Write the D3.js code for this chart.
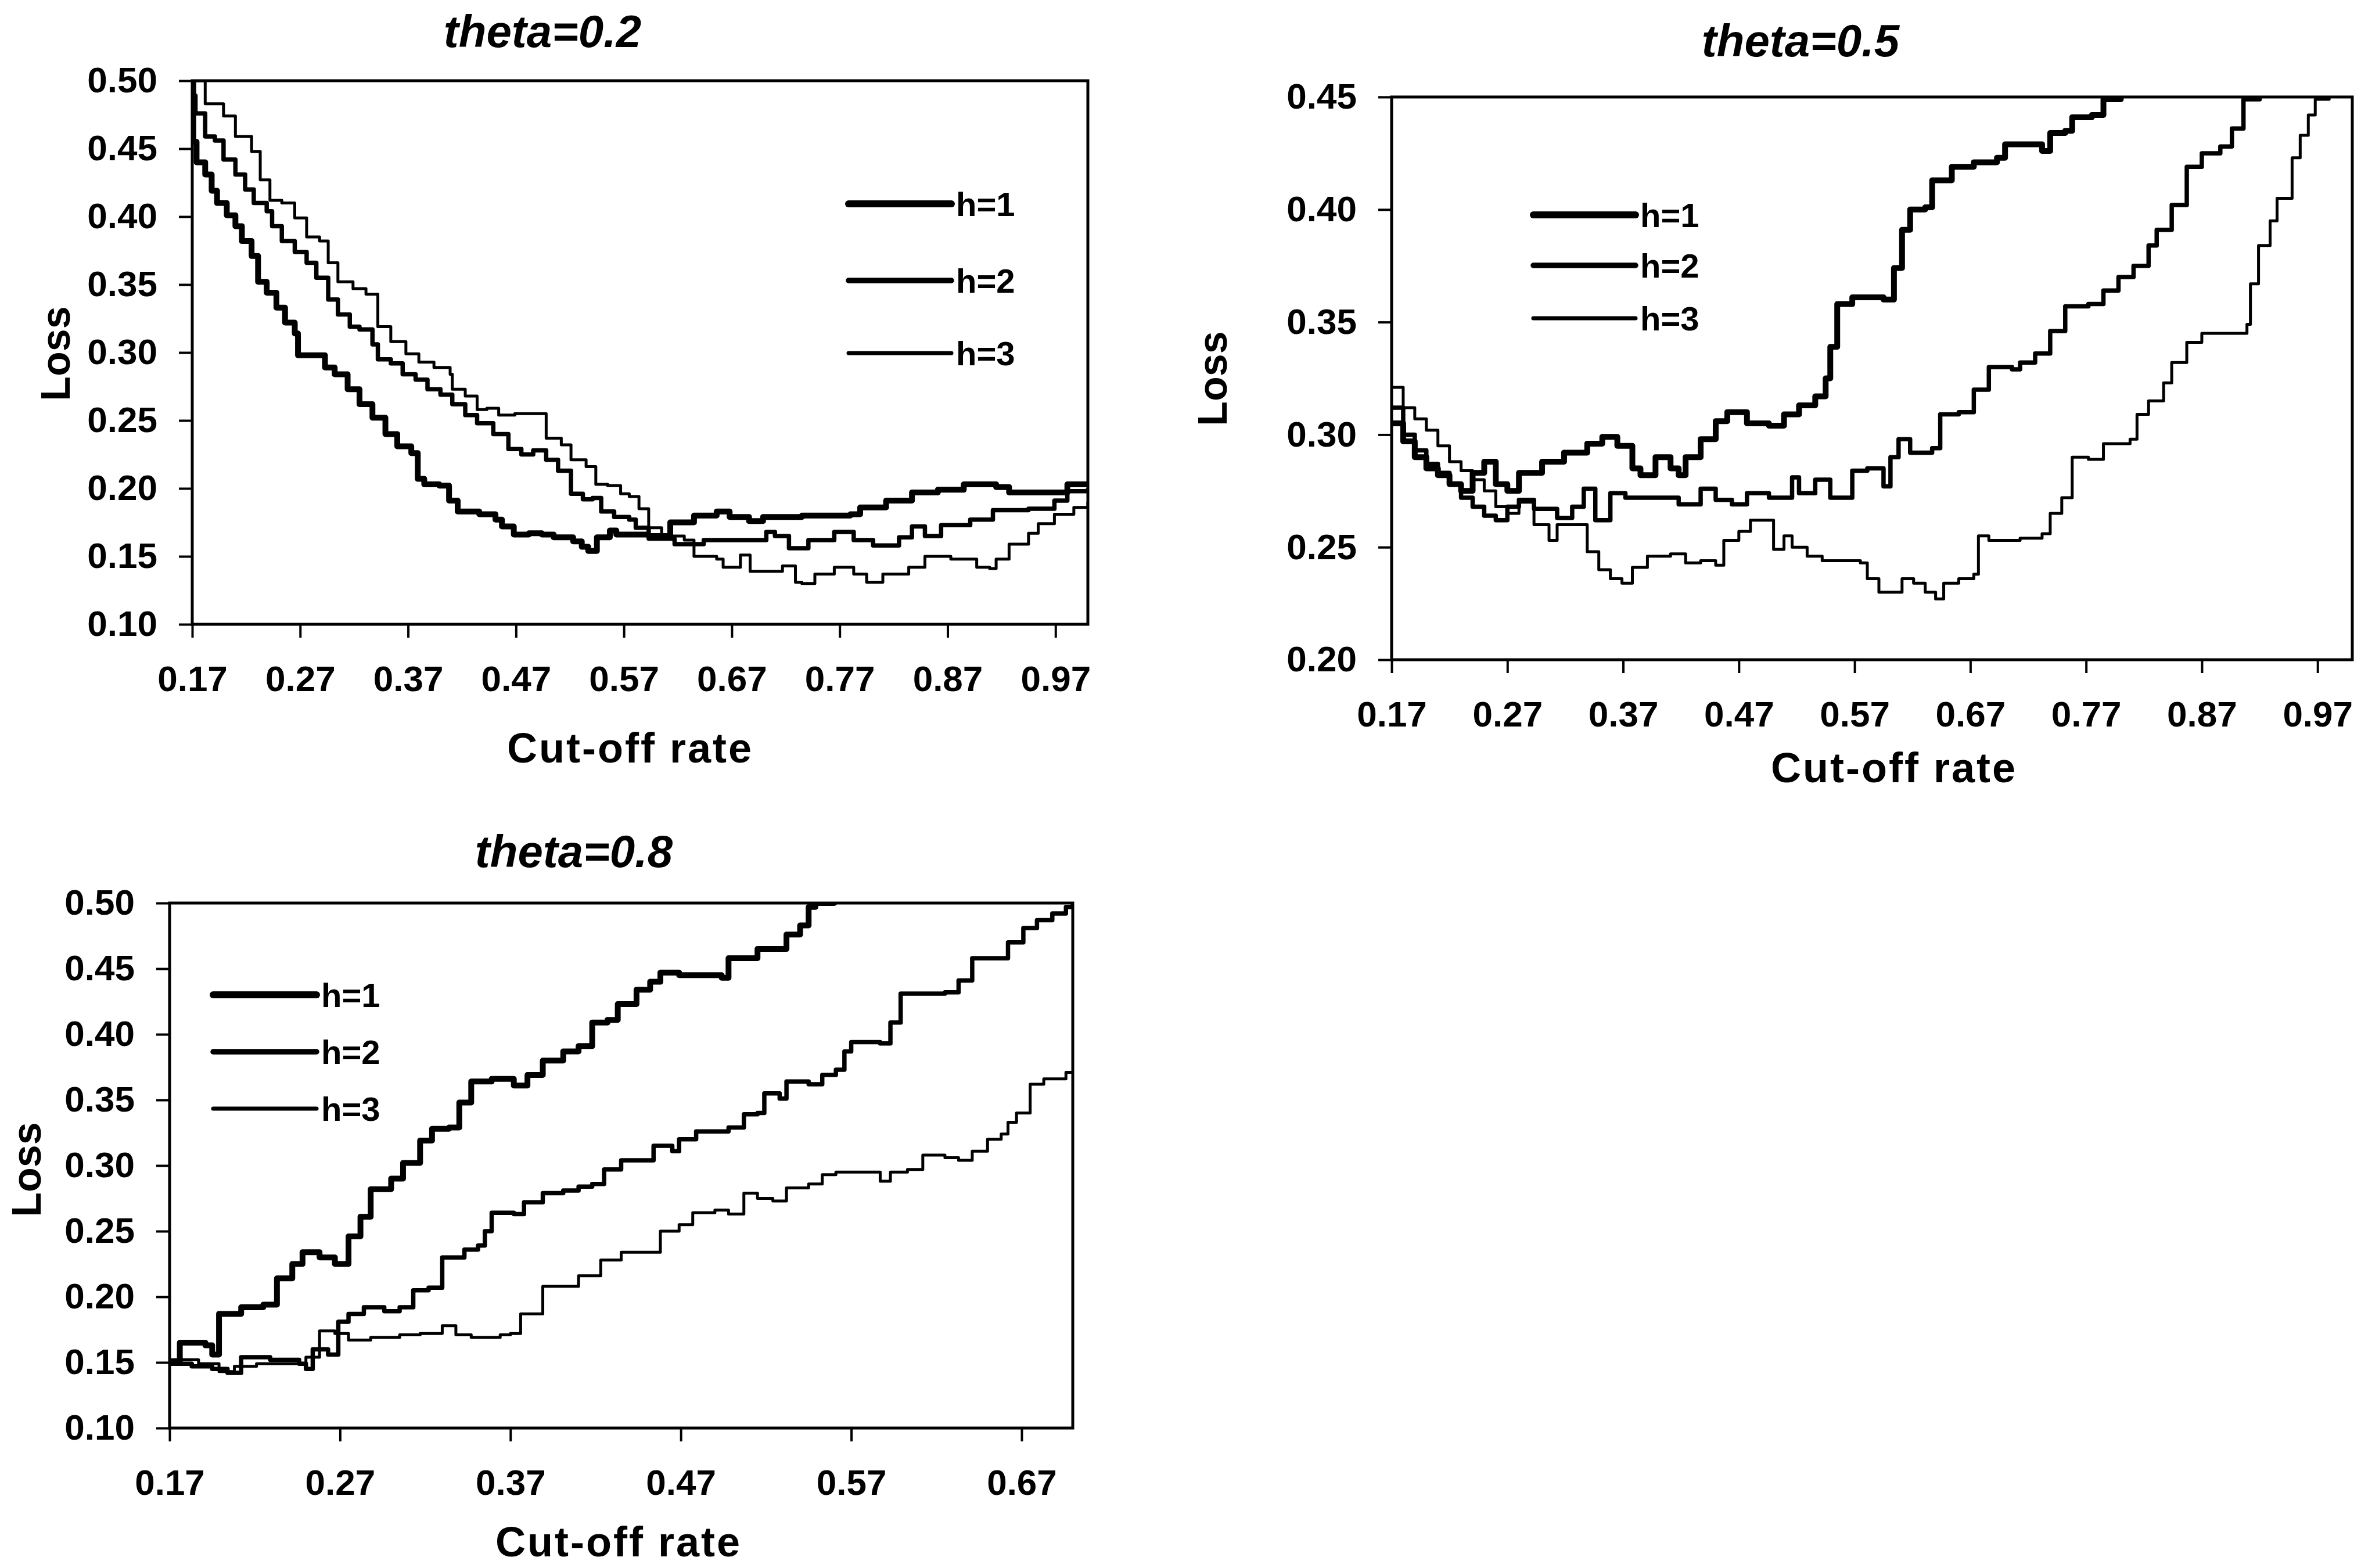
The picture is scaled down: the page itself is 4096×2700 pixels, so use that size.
<!DOCTYPE html>
<html>
<head>
<meta charset="utf-8">
<script src="https://cdn.jsdelivr.net/npm/d3@7"></script>
<style>
  html, body { margin: 0; padding: 0; background: #fff; }
  svg { display: block; }
  text { font-family: "Liberation Sans", Arial, sans-serif; font-weight: bold; fill: #000; }
</style>
</head>
<body>
<svg id="chart" width="4096" height="2700"></svg>
<script>
//series names shown in every legend
const seriesNames = ["h=1", "h=2", "h=3"];

//panel titles
const titles = ["theta=0.2", "theta=0.5", "theta=0.8"];

//tick values
const xTicksLong = [0.17, 0.27, 0.37, 0.47, 0.57, 0.67, 0.77, 0.87, 0.97];
const xTicksShort = [0.17, 0.27, 0.37, 0.47, 0.57, 0.67];
const yTicks02 = [0.10, 0.15, 0.20, 0.25, 0.30, 0.35, 0.40, 0.45, 0.50];
const yTicks05 = [0.20, 0.25, 0.30, 0.35, 0.40, 0.45];
const yTicks08 = [0.10, 0.15, 0.20, 0.25, 0.30, 0.35, 0.40, 0.45, 0.50];

//theta = 0.2 : [cut-off rate, loss]
const theta02H1 = [[0.170,0.500],[0.171,0.455],[0.174,0.440],[0.182,0.431],[0.188,0.419],[0.193,0.410],[0.202,0.401],[0.210,0.393],[0.216,0.382],[0.225,0.371],[0.231,0.352],[0.239,0.344],[0.248,0.333],[0.256,0.322],[0.265,0.314],[0.268,0.298],[0.285,0.298],[0.293,0.289],[0.302,0.284],[0.314,0.273],[0.325,0.262],[0.337,0.252],[0.349,0.240],[0.360,0.231],[0.373,0.226],[0.379,0.207],[0.385,0.203],[0.399,0.202],[0.408,0.191],[0.416,0.183],[0.436,0.181],[0.451,0.177],[0.457,0.172],[0.468,0.166],[0.482,0.167],[0.494,0.166],[0.505,0.164],[0.523,0.161],[0.531,0.157],[0.537,0.154],[0.545,0.164],[0.557,0.169],[0.563,0.166],[0.593,0.165],[0.613,0.175],[0.635,0.180],[0.656,0.183],[0.668,0.179],[0.686,0.176],[0.699,0.179],[0.735,0.180],[0.780,0.181],[0.789,0.186],[0.813,0.191],[0.837,0.197],[0.861,0.199],[0.885,0.203],[0.915,0.201],[0.927,0.197],[0.969,0.197],[0.981,0.203],[1.000,0.202]];
const theta02H2 = [[0.170,0.500],[0.171,0.489],[0.173,0.476],[0.182,0.459],[0.191,0.456],[0.199,0.442],[0.210,0.431],[0.219,0.420],[0.227,0.410],[0.239,0.404],[0.244,0.393],[0.253,0.382],[0.265,0.374],[0.276,0.366],[0.285,0.355],[0.296,0.339],[0.305,0.328],[0.316,0.319],[0.325,0.317],[0.337,0.306],[0.342,0.295],[0.354,0.292],[0.365,0.284],[0.377,0.280],[0.388,0.273],[0.400,0.269],[0.411,0.262],[0.423,0.254],[0.434,0.248],[0.449,0.240],[0.463,0.229],[0.475,0.225],[0.486,0.228],[0.498,0.221],[0.509,0.213],[0.521,0.196],[0.532,0.192],[0.541,0.193],[0.549,0.183],[0.561,0.179],[0.575,0.177],[0.581,0.171],[0.593,0.163],[0.617,0.159],[0.644,0.162],[0.687,0.162],[0.702,0.168],[0.710,0.165],[0.723,0.156],[0.741,0.162],[0.765,0.168],[0.783,0.162],[0.801,0.158],[0.825,0.164],[0.837,0.172],[0.849,0.165],[0.864,0.173],[0.891,0.177],[0.912,0.184],[0.945,0.185],[0.969,0.191],[0.981,0.198],[1.000,0.200]];
const theta02H3 = [[0.170,0.500],[0.182,0.483],[0.199,0.474],[0.210,0.459],[0.225,0.448],[0.233,0.427],[0.242,0.412],[0.253,0.410],[0.265,0.399],[0.276,0.385],[0.288,0.382],[0.296,0.366],[0.305,0.352],[0.319,0.347],[0.331,0.343],[0.342,0.319],[0.354,0.308],[0.368,0.299],[0.380,0.293],[0.394,0.289],[0.409,0.284],[0.411,0.273],[0.423,0.268],[0.434,0.258],[0.443,0.259],[0.454,0.254],[0.469,0.255],[0.489,0.255],[0.498,0.237],[0.512,0.232],[0.521,0.221],[0.535,0.216],[0.544,0.203],[0.555,0.202],[0.567,0.196],[0.575,0.194],[0.584,0.185],[0.593,0.171],[0.605,0.165],[0.626,0.162],[0.635,0.150],[0.656,0.148],[0.662,0.142],[0.678,0.151],[0.687,0.139],[0.705,0.139],[0.717,0.143],[0.729,0.131],[0.735,0.130],[0.747,0.137],[0.765,0.142],[0.783,0.137],[0.795,0.131],[0.810,0.137],[0.834,0.142],[0.849,0.150],[0.873,0.148],[0.897,0.142],[0.909,0.141],[0.915,0.148],[0.927,0.159],[0.945,0.167],[0.954,0.174],[0.969,0.181],[0.987,0.186],[1.000,0.190]];

//theta = 0.5
const theta05H1 = [[0.170,0.305],[0.180,0.297],[0.190,0.290],[0.200,0.285],[0.210,0.282],[0.220,0.278],[0.230,0.275],[0.240,0.283],[0.250,0.288],[0.260,0.278],[0.270,0.275],[0.280,0.283],[0.300,0.288],[0.319,0.292],[0.339,0.296],[0.352,0.299],[0.365,0.295],[0.378,0.285],[0.385,0.282],[0.398,0.290],[0.411,0.285],[0.418,0.282],[0.424,0.290],[0.437,0.298],[0.450,0.306],[0.460,0.310],[0.477,0.305],[0.496,0.304],[0.509,0.309],[0.522,0.313],[0.536,0.317],[0.545,0.325],[0.549,0.339],[0.555,0.358],[0.568,0.361],[0.595,0.360],[0.604,0.374],[0.611,0.391],[0.618,0.400],[0.631,0.401],[0.637,0.413],[0.654,0.419],[0.673,0.421],[0.693,0.423],[0.700,0.429],[0.726,0.429],[0.732,0.426],[0.739,0.434],[0.752,0.435],[0.758,0.441],[0.775,0.442],[0.785,0.449],[0.800,0.460]];
const theta05H2 = [[0.170,0.312],[0.180,0.300],[0.190,0.293],[0.200,0.287],[0.210,0.283],[0.220,0.278],[0.230,0.272],[0.240,0.268],[0.250,0.264],[0.260,0.262],[0.270,0.268],[0.280,0.271],[0.293,0.267],[0.313,0.263],[0.326,0.268],[0.336,0.276],[0.346,0.262],[0.359,0.274],[0.372,0.272],[0.398,0.272],[0.418,0.269],[0.437,0.276],[0.450,0.271],[0.464,0.269],[0.477,0.274],[0.496,0.272],[0.516,0.281],[0.522,0.274],[0.536,0.280],[0.549,0.272],[0.562,0.272],[0.568,0.284],[0.581,0.285],[0.595,0.277],[0.601,0.290],[0.608,0.298],[0.618,0.292],[0.637,0.294],[0.644,0.309],[0.660,0.310],[0.673,0.320],[0.686,0.330],[0.706,0.329],[0.713,0.332],[0.726,0.336],[0.739,0.346],[0.752,0.357],[0.772,0.358],[0.785,0.364],[0.798,0.370],[0.811,0.375],[0.824,0.384],[0.831,0.391],[0.844,0.402],[0.857,0.419],[0.870,0.425],[0.886,0.428],[0.896,0.436],[0.906,0.449],[0.920,0.460]];
const theta05H3 = [[0.170,0.321],[0.180,0.312],[0.190,0.307],[0.200,0.302],[0.210,0.295],[0.220,0.288],[0.230,0.284],[0.240,0.280],[0.250,0.275],[0.260,0.268],[0.270,0.265],[0.280,0.270],[0.293,0.260],[0.306,0.253],[0.313,0.260],[0.326,0.260],[0.339,0.248],[0.349,0.240],[0.359,0.236],[0.369,0.234],[0.378,0.241],[0.391,0.246],[0.411,0.247],[0.424,0.243],[0.437,0.244],[0.450,0.242],[0.457,0.253],[0.470,0.257],[0.480,0.262],[0.493,0.262],[0.500,0.249],[0.509,0.255],[0.516,0.250],[0.529,0.246],[0.542,0.244],[0.575,0.243],[0.581,0.236],[0.591,0.230],[0.604,0.230],[0.611,0.236],[0.621,0.234],[0.631,0.230],[0.640,0.227],[0.647,0.234],[0.660,0.236],[0.673,0.238],[0.677,0.255],[0.686,0.253],[0.713,0.254],[0.732,0.256],[0.739,0.265],[0.749,0.272],[0.758,0.290],[0.772,0.289],[0.785,0.296],[0.808,0.298],[0.814,0.309],[0.824,0.315],[0.837,0.323],[0.844,0.332],[0.857,0.341],[0.870,0.345],[0.890,0.345],[0.909,0.349],[0.912,0.367],[0.919,0.384],[0.929,0.395],[0.935,0.405],[0.948,0.423],[0.955,0.433],[0.962,0.442],[0.968,0.449],[0.980,0.460]];

//theta = 0.8
const theta08H1 = [[0.170,0.150],[0.176,0.165],[0.191,0.163],[0.195,0.156],[0.199,0.187],[0.212,0.192],[0.225,0.194],[0.233,0.214],[0.242,0.225],[0.248,0.234],[0.258,0.230],[0.267,0.225],[0.275,0.246],[0.282,0.261],[0.288,0.282],[0.300,0.290],[0.307,0.302],[0.317,0.319],[0.324,0.328],[0.334,0.329],[0.340,0.348],[0.347,0.364],[0.359,0.366],[0.372,0.361],[0.380,0.369],[0.389,0.380],[0.401,0.387],[0.410,0.391],[0.418,0.409],[0.427,0.411],[0.433,0.423],[0.444,0.434],[0.452,0.440],[0.458,0.447],[0.469,0.445],[0.494,0.443],[0.498,0.458],[0.511,0.458],[0.515,0.465],[0.528,0.465],[0.532,0.476],[0.540,0.483],[0.545,0.497],[0.549,0.500],[0.560,0.510]];
const theta08H2 = [[0.170,0.149],[0.183,0.147],[0.195,0.145],[0.204,0.142],[0.212,0.154],[0.229,0.152],[0.246,0.149],[0.250,0.145],[0.254,0.160],[0.263,0.156],[0.269,0.181],[0.275,0.187],[0.284,0.192],[0.296,0.189],[0.305,0.192],[0.313,0.205],[0.322,0.207],[0.330,0.230],[0.343,0.236],[0.351,0.239],[0.355,0.250],[0.359,0.264],[0.372,0.263],[0.378,0.272],[0.389,0.279],[0.401,0.281],[0.410,0.284],[0.418,0.286],[0.425,0.297],[0.435,0.304],[0.450,0.304],[0.454,0.315],[0.465,0.311],[0.469,0.320],[0.479,0.326],[0.490,0.326],[0.498,0.329],[0.507,0.339],[0.515,0.340],[0.519,0.355],[0.528,0.351],[0.532,0.364],[0.545,0.362],[0.553,0.369],[0.561,0.373],[0.566,0.387],[0.570,0.394],[0.587,0.393],[0.593,0.409],[0.599,0.431],[0.614,0.431],[0.625,0.432],[0.633,0.441],[0.641,0.458],[0.656,0.458],[0.662,0.470],[0.671,0.481],[0.679,0.487],[0.688,0.492],[0.696,0.497],[0.700,0.500]];
const theta08H3 = [[0.170,0.152],[0.187,0.149],[0.199,0.143],[0.208,0.147],[0.221,0.149],[0.237,0.149],[0.250,0.154],[0.258,0.174],[0.267,0.172],[0.275,0.167],[0.288,0.169],[0.305,0.171],[0.317,0.172],[0.330,0.178],[0.338,0.171],[0.347,0.169],[0.364,0.171],[0.370,0.172],[0.376,0.187],[0.389,0.208],[0.406,0.208],[0.410,0.216],[0.423,0.228],[0.435,0.234],[0.452,0.234],[0.458,0.250],[0.469,0.255],[0.477,0.264],[0.490,0.266],[0.498,0.263],[0.507,0.279],[0.515,0.275],[0.524,0.273],[0.532,0.283],[0.545,0.286],[0.553,0.293],[0.561,0.295],[0.574,0.295],[0.587,0.288],[0.593,0.295],[0.603,0.297],[0.612,0.308],[0.625,0.306],[0.633,0.304],[0.641,0.311],[0.650,0.320],[0.658,0.324],[0.662,0.333],[0.667,0.340],[0.675,0.362],[0.683,0.366],[0.696,0.371],[0.700,0.371]];

//line width per series (h=1 heaviest)
const strokeWidths = [10, 7.5, 5];

//panel layout (pixel positions in the 4096x2700 window)
const panels = [
  {
    title: titles[0], series: [theta02H1, theta02H2, theta02H3],
    xDomain: [0.17, 1.0], yDomain: [0.10, 0.50], xTicks: xTicksLong, yTicks: yTicks02,
    box: { left: 331, right: 1873, top: 139, bottom: 1075 },
    titlePos: [934, 81], lossPos: [95, 609], xLabelPos: [1085, 1313],
    legend: { x1: 1461, x2: 1638, ys: [351, 483, 608] }
  },
  {
    title: titles[1], series: [theta05H1, theta05H2, theta05H3],
    xDomain: [0.17, 1.0], yDomain: [0.20, 0.45], xTicks: xTicksLong, yTicks: yTicks05,
    box: { left: 2396, right: 4050, top: 167, bottom: 1136 },
    titlePos: [3100, 97], lossPos: [2087, 652], xLabelPos: [3261, 1347],
    legend: { x1: 2640, x2: 2816, ys: [370, 457, 548] }
  },
  {
    title: titles[2], series: [theta08H1, theta08H2, theta08H3],
    xDomain: [0.17, 0.70], yDomain: [0.10, 0.50], xTicks: xTicksShort, yTicks: yTicks08,
    box: { left: 292, right: 1847, top: 1555, bottom: 2459 },
    titlePos: [988, 1493], lossPos: [45, 2014], xLabelPos: [1065, 2680],
    legend: { x1: 367, x2: 545, ys: [1713, 1811, 1909] }
  }
];

const svg = d3.select("#chart");

panels.forEach((p, i) => drawPanel(svg, p, i));

function drawPanel(root, p, idx) {
  const { left, right, top, bottom } = p.box;
  const g = root.append("g").attr("class", "panel");

  //scales
  const x = d3.scaleLinear().domain(p.xDomain).range([left, right]);
  const y = d3.scaleLinear().domain(p.yDomain).range([bottom, top]);

  //clip the curves to the plot box
  const clipId = "clip" + idx;
  g.append("clipPath")
    .attr("id", clipId)
    .append("rect")
    .attr("x", left)
    .attr("y", top)
    .attr("width", right - left)
    .attr("height", bottom - top);

  //y axis
  const yAxis = d3.axisLeft(y)
    .tickValues(p.yTicks)
    .tickFormat(d3.format(".2f"))
    .tickSize(23)
    .tickPadding(37);
  const yg = g.append("g").attr("transform", `translate(${left},0)`).call(yAxis);

  //x axis
  const xAxis = d3.axisBottom(x)
    .tickValues(p.xTicks)
    .tickFormat(d3.format(".2f"))
    .tickSize(23)
    .tickPadding(48);
  const xg = g.append("g").attr("transform", `translate(0,${bottom})`).call(xAxis);

  [yg, xg].forEach(ax => {
    ax.select(".domain").remove();
    ax.selectAll(".tick line").attr("stroke", "#000").attr("stroke-width", 4);
    ax.selectAll(".tick text")
      .style("font-size", "62px")
      .attr("fill", "#000");
  });

  //the curves
  const line = d3.line()
    .x(d => x(d[0]))
    .y(d => y(d[1]))
    .curve(d3.curveStepAfter);

  g.append("g")
    .attr("clip-path", `url(#${clipId})`)
    .selectAll("path")
    .data(p.series)
    .join("path")
    .attr("d", line)
    .attr("fill", "none")
    .attr("stroke", "#000")
    .attr("stroke-width", (d, i) => strokeWidths[i])
    .attr("stroke-linejoin", "round");

  //plot frame
  g.append("rect")
    .attr("x", left)
    .attr("y", top)
    .attr("width", right - left)
    .attr("height", bottom - top)
    .attr("fill", "none")
    .attr("stroke", "#000")
    .attr("stroke-width", 5);

  //title
  g.append("text")
    .attr("x", p.titlePos[0])
    .attr("y", p.titlePos[1])
    .attr("text-anchor", "middle")
    .style("font-size", "78px")
    .style("font-style", "italic")
    .text(p.title);

  //axis titles
  g.append("text")
    .attr("transform", `translate(${p.lossPos[0]},${p.lossPos[1]}) rotate(-90)`)
    .attr("text-anchor", "middle")
    .attr("dy", "0.36em")
    .style("font-size", "70px")
    .text("Loss");

  g.append("text")
    .attr("x", p.xLabelPos[0])
    .attr("y", p.xLabelPos[1])
    .attr("text-anchor", "middle")
    .style("font-size", "72px")
    .style("letter-spacing", "3px")
    .text("Cut-off rate");

  //legend
  const lg = g.append("g").attr("class", "legend");
  const items = lg.selectAll("g")
    .data(seriesNames)
    .join("g")
    .attr("transform", (d, i) => `translate(0,${p.legend.ys[i]})`);

  items.append("line")
    .attr("x1", p.legend.x1)
    .attr("x2", p.legend.x2)
    .attr("stroke", "#000")
    .attr("stroke-width", (d, i) => strokeWidths[i] + 2)
    .attr("stroke-linecap", "round");

  items.append("text")
    .attr("x", p.legend.x2 + 8)
    .attr("dy", "0.36em")
    .style("font-size", "58px")
    .text(d => d);
}
</script>
</body>
</html>
